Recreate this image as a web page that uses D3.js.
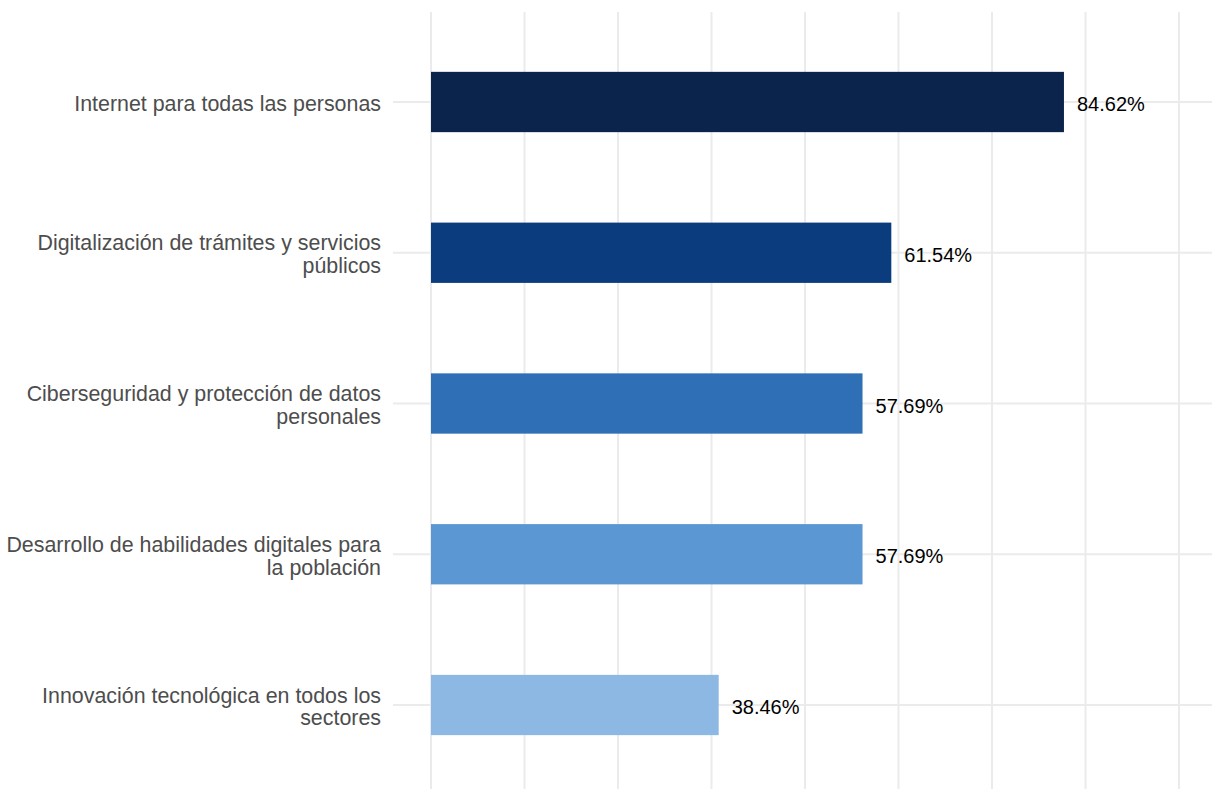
<!DOCTYPE html>
<html>
<head>
<meta charset="utf-8">
<script src="https://cdn.jsdelivr.net/npm/d3@7"></script>
<style>
  html, body { margin: 0; padding: 0; background: #fff; }
  svg { display: block; }
</style>
</head>
<body>
<svg id="chart" width="1212" height="789"></svg>
<script>
const categories = [
  "Internet para todas las personas",
  "Digitalización de trámites y servicios públicos",
  "Ciberseguridad y protección de datos personales",
  "Desarrollo de habilidades digitales para la población",
  "Innovación tecnológica en todos los sectores"
];
const categoryLines = [
  ["Internet para todas las personas"],
  ["Digitalización de trámites y servicios", "públicos"],
  ["Ciberseguridad y protección de datos", "personales"],
  ["Desarrollo de habilidades digitales para", "la población"],
  ["Innovación tecnológica en todos los", "sectores"]
];
const values = [84.62, 61.54, 57.69, 57.69, 38.46];
const valueLabels = ["84.62%", "61.54%", "57.69%", "57.69%", "38.46%"];
const colors = ["#0b244c", "#0b3c7e", "#2f6fb5", "#5b97d3", "#8cb8e3"];
const gridTicks = [0, 12.5, 25, 37.5, 50, 62.5, 75, 87.5, 100];

const svg = d3.select("#chart");
const font = "'Liberation Sans', Arial, Helvetica, sans-serif";

const x = d3.scaleLinear().domain([0, 100]).range([431, 1179]);
const y = d3.scalePoint().domain(categories).range([102, 705]);
const step = y.step();
const barH = step * 0.4;

const panel = { left: 393, right: 1216, top: 12, bottom: 796 };

// vertical gridlines
svg.append("g").selectAll("line").data(gridTicks).join("line")
  .attr("x1", d => x(d)).attr("x2", d => x(d))
  .attr("y1", panel.top).attr("y2", panel.bottom)
  .attr("stroke", "#ebebeb").attr("stroke-width", 2);

// horizontal gridlines
svg.append("g").selectAll("line").data(categories).join("line")
  .attr("x1", panel.left).attr("x2", panel.right)
  .attr("y1", d => y(d)).attr("y2", d => y(d))
  .attr("stroke", "#ebebeb").attr("stroke-width", 2);

// bars
svg.append("g").selectAll("rect").data(categories).join("rect")
  .attr("x", x(0))
  .attr("y", d => y(d) - barH / 2)
  .attr("width", (d, i) => x(values[i]) - x(0))
  .attr("height", barH)
  .attr("fill", (d, i) => colors[i]);

// value labels
svg.append("g").selectAll("text").data(categories).join("text")
  .attr("x", (d, i) => x(values[i]) + 13)
  .attr("y", d => y(d))
  .attr("dy", "0.45em")
  .attr("font-family", font)
  .attr("font-size", 20)
  .attr("fill", "#000")
  .text((d, i) => valueLabels[i]);

// category labels
const lineH = 22.6;
const labels = svg.append("g").selectAll("text").data(categories).join("text")
  .attr("text-anchor", "end")
  .attr("font-family", font)
  .attr("font-size", 21.4)
  .attr("fill", "#4d4d4d");
labels.each(function(d, i) {
  const lines = categoryLines[i];
  const n = lines.length;
  d3.select(this).selectAll("tspan").data(lines).join("tspan")
    .attr("x", 381)
    .attr("y", (l, j) => y(d) + (j - (n - 1) / 2) * lineH)
    .attr("dy", "0.42em")
    .text(l => l);
});
</script>
</body>
</html>
